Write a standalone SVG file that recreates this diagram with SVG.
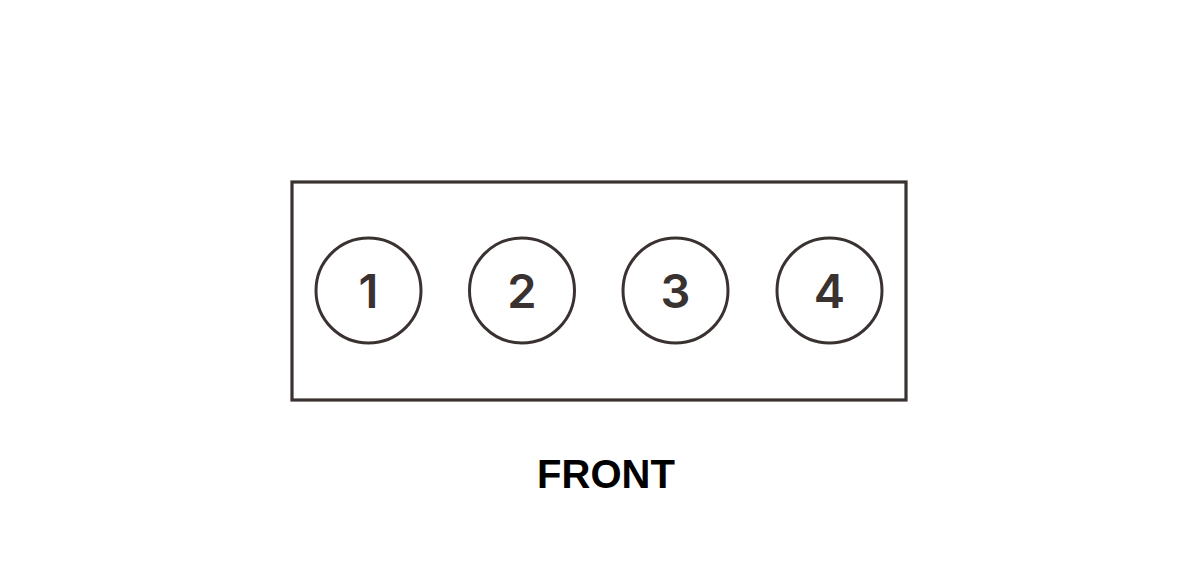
<svg xmlns="http://www.w3.org/2000/svg" width="1200" height="586" viewBox="0 0 1200 586">
<style>
.box{fill:none;stroke:#3a3230;stroke-width:3.2}
.cyl{fill:none;stroke:#3a3230;stroke-width:3}
.num{font-family:Inter,"Liberation Sans",Arial,sans-serif;font-size:47px;font-weight:600;fill:#3a3230;text-anchor:middle}
.lbl{font-family:"Liberation Sans",Arial,sans-serif;font-size:40px;font-weight:bold;fill:#000;text-anchor:middle}
</style>
<rect width="1200" height="586" fill="#fff"/>
<g id="block"><rect class="box" x="292" y="182" width="614" height="218"/></g>
<g id="cyl1"><circle class="cyl" cx="368.5" cy="290.5" r="52.5"/><text class="num" x="368.5" y="307.5">1</text></g>
<g id="cyl2"><circle class="cyl" cx="522" cy="290.5" r="52.5"/><text class="num" x="522" y="307.5">2</text></g>
<g id="cyl3"><circle class="cyl" cx="675.5" cy="290.5" r="52.5"/><text class="num" x="675.5" y="307.5">3</text></g>
<g id="cyl4"><circle class="cyl" cx="829.5" cy="290.5" r="52.5"/><text class="num" x="829.5" y="307.5">4</text></g>
<g id="connectors"></g>
<g id="label"><text class="lbl" x="606" y="488">FRONT</text></g>
</svg>
